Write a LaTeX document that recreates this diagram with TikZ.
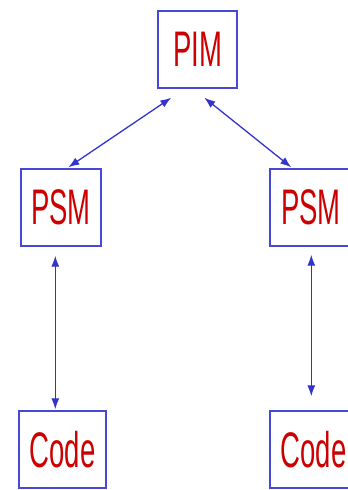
\documentclass[tikz,border=0pt]{standalone}
\usepackage{fontspec}
\usetikzlibrary{arrows.meta}
\newfontfamily\labelfont[FakeStretch=0.55]{Liberation Sans}
\definecolor{boxblue}{RGB}{72,72,214}
\definecolor{linkblue}{RGB}{52,52,204}
\definecolor{labelred}{RGB}{204,0,0}
\begin{document}
\begin{tikzpicture}[x=1pt,y=-1pt,
  model/.style={draw=boxblue,line width=1.4pt,inner sep=0pt,
    minimum height=77pt,text=labelred,font=\labelfont\fontsize{50}{50}\selectfont},
  link/.style={draw=linkblue,line width=1.3pt,
    {Latex[length=11pt,width=8pt]}-{Latex[length=11pt,width=8pt]}}]
  \clip (0,0) rectangle (348,490);
  \fill[white] (0,0) rectangle (348,490);
  % models
  \node[model,minimum width=79pt] (pim)  at (197.5,49.5) {PIM};
  \node[model,minimum width=80pt] (psml) at (61,207.5)   {PSM};
  \node[model,minimum width=82pt] (psmr) at (311,207.5)  {PSM};
  \node[model,minimum width=87pt] (codel) at (62.5,449.5) {Code};
  \node[model,minimum width=87pt] (coder) at (313.5,449.5) {Code};
  % transformations
  \draw[link] ([xshift=14pt,yshift=-9pt]pim.south west) -- ([xshift=48pt,yshift=1pt]psml.north west);
  \draw[link] ([xshift=47pt,yshift=-9pt]pim.south west) -- ([xshift=22pt,yshift=1pt]psmr.north west);
  \draw[link] ([xshift=35pt,yshift=-9pt]psml.south west) -- ([xshift=37pt,yshift=1pt]codel.north west);
  \draw[link] ([xshift=42pt,yshift=-8pt]psmr.south west) -- ([xshift=42pt,yshift=14pt]coder.north west);
\end{tikzpicture}
\end{document}
